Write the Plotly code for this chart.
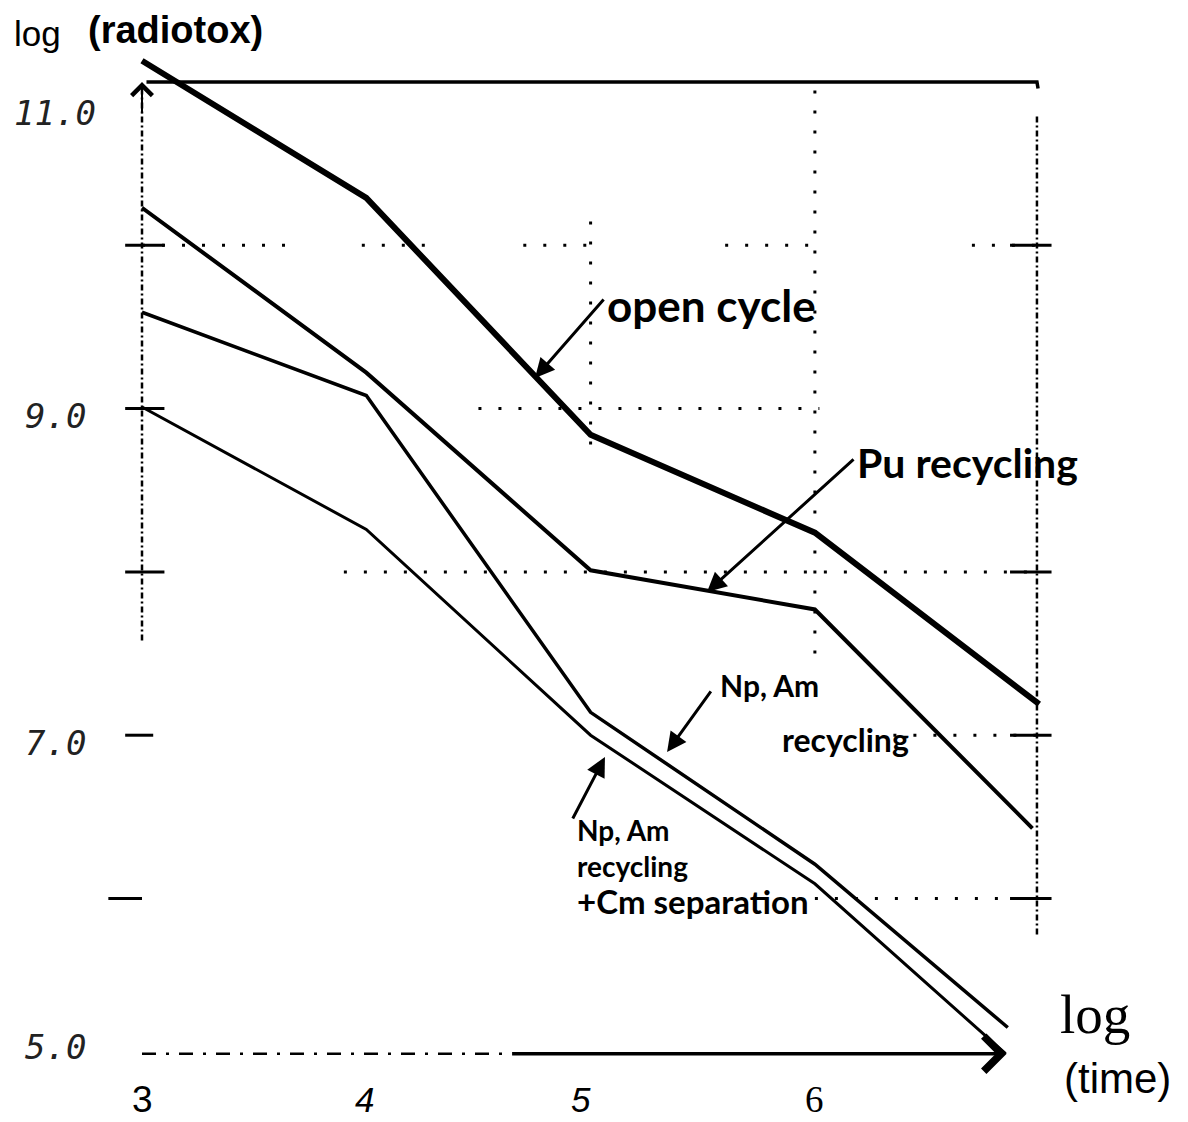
import plotly.graph_objects as go

# ---------------- data ----------------
open_cycle_x = [3, 4, 5, 6, 7.0]
open_cycle_y = [11.13, 10.29, 8.84, 8.24, 7.19]

pu_recycling_x = [3, 4, 5, 6, 6.97]
pu_recycling_y = [10.23, 9.22, 8.01, 7.77, 6.43]

np_am_x = [3, 4, 5, 6, 6.86]
np_am_y = [9.59, 9.08, 7.14, 6.21, 5.21]

np_am_cm_x = [3, 4, 5, 6, 6.85]
np_am_cm_y = [9.01, 8.26, 7.00, 6.09, 5.05]

y_tick_vals = [11.0, 9.0, 7.0, 5.0]
y_tick_text = ["11.0", "9.0", "7.0", "5.0"]
x_tick_vals = [3, 4, 5, 6]
x_tick_text = ["3", "4", "5", "6"]

left_tick_vals = [10, 9, 8, 7, 6]
right_tick_vals = [10, 8, 7, 6]

# ---------------- figure ----------------
W, H = 1188, 1122
OFF = 8  # page body margin compensation (px)
X_RANGE = [2.4026, 7.6991]
Y_RANGE = [4.5824, 11.4532]

fig = go.Figure()


def seg(xs, ys, width, dash="solid", color="black"):
    fig.add_trace(go.Scatter(x=xs, y=ys, mode="lines",
                             line=dict(color=color, width=width, dash=dash),
                             hoverinfo="skip", showlegend=False))


DOT = "3px,17px"
DASHDOT = "6px,3px,2px,3px"

# dotted grid fragments
for a, b in [(3.0, 3.68), (3.98, 4.3), (4.7, 5.05), (5.6, 6.02), (6.7, 7.0)]:
    seg([a, b], [10, 10], 3, DOT)
seg([4.5, 6.02], [9, 9], 3, DOT)
seg([3.9, 7.0], [8, 8], 3, DOT)
seg([6.35, 7.0], [7, 7], 3, DOT)
seg([6.0, 7.0], [6, 6], 3, DOT)
seg([6, 6], [7.5, 11.0], 3, DOT)
seg([5, 5], [8.78, 10.2], 3, DOT)

# frame: left dash-dot axis, right dash-dot line, top line
seg([3, 3], [7.58, 10.97], 2.5, DASHDOT)
seg([6.99, 6.99], [5.78, 10.8], 2.5, DASHDOT)
seg([3.02, 6.99, 6.995], [11.0, 11.0, 10.96], 3.5)

# tick marks
for v in left_tick_vals:
    lo = 2.85 if v == 6 else 2.925
    hi = 3.0 if v == 6 else (3.05 if v == 7 else 3.1)
    seg([lo, hi], [v, v], 3)
for v in right_tick_vals:
    seg([6.87, 7.055], [v, v], 3)

# bottom axis (broken part + solid part)
seg([3.0, 4.62], [5.05, 5.05], 2.5, "14px,10px,3px,10px")
seg([4.65, 6.83], [5.05, 5.05], 3.5)

# data lines
seg(np_am_cm_x, np_am_cm_y, 3)
seg(np_am_x, np_am_y, 3.5)
seg(pu_recycling_x, pu_recycling_y, 4)
seg(open_cycle_x, open_cycle_y, 6)

annotations = []

# axis arrow heads
annotations.append(dict(x=6.855, y=5.05, ax=6.6, ay=5.05, xref="x", yref="y",
                        axref="x", ayref="y", showarrow=True, arrowhead=4,
                        arrowsize=2.7, arrowwidth=2.5, arrowcolor="black", text=""))
annotations.append(dict(x=3, y=11.0, ax=3, ay=10.8, xref="x", yref="y",
                        axref="x", ayref="y", showarrow=True, arrowhead=4,
                        arrowsize=2.0, arrowwidth=2, arrowcolor="black", text=""))

# y tick labels (italic typewriter style)
y_label_shift = [-31, -7, -8, 15]
for v, t, s in zip(y_tick_vals, y_tick_text, y_label_shift):
    annotations.append(dict(x=2.6135, y=v, xref="x", yref="y", text=t,
                            showarrow=False, yshift=s, xanchor="center", yanchor="middle",
                            font=dict(family="DejaVu Sans Mono", size=34, color="#222",
                                      style="italic")))

# x tick labels
x_label_fonts = [dict(family="Liberation Sans Narrow, Liberation Sans", size=37, color="black"),
                 dict(family="Liberation Sans Narrow, Liberation Sans", size=35, color="black", style="italic"),
                 dict(family="Liberation Sans Narrow, Liberation Sans", size=35, color="black", style="italic"),
                 dict(family="Liberation Serif", size=37, color="black")]
x_label_dx = [0, -2, -10, 0]
for v, t, f, dx in zip(x_tick_vals, x_tick_text, x_label_fonts, x_label_dx):
    annotations.append(dict(x=v, y=5.05, xref="x", yref="y", text=t, showarrow=False,
                            xshift=dx, yshift=-46, xanchor="center", yanchor="middle", font=f))


def px(xp, yp):
    return (xp - OFF) / W, 1 - (yp - OFF) / H


# axis titles
for text, (xp, yp), font in [
    ("log", (12, 33), dict(family="Liberation Sans", size=35, color="black")),
    ("<b>(radiotox)</b>", (86, 30), dict(family="Liberation Sans", size=38, color="black")),
    ("log", (1058, 1014), dict(family="Liberation Serif", size=55, color="black")),
    ("(time)", (1062, 1078), dict(family="Liberation Sans Narrow, Liberation Sans", size=42, color="black")),
]:
    xx, yy = px(xp, yp)
    annotations.append(dict(x=xx, y=yy, xref="paper", yref="paper", text=text,
                            showarrow=False, xanchor="left", yanchor="middle", font=font))

# handwritten-style labels
HAND = dict(family="Lato", color="black", weight=700)
labels = [
    ("open cycle", 5.064, 9.634, 44),
    ("Pu recycling", 6.179, 8.673, 41),
    ("Np, Am", 5.568, 7.307, 30),
    ("recycling", 5.844, 6.971, 32),
    ("Np, Am<br>recycling<br><span style='font-size:33px'>+Cm separation</span>",
     4.93, 6.195, 28),
]
for t, x, y, s in labels:
    annotations.append(dict(x=x, y=y, xref="x", yref="y", text=t, showarrow=False,
                            align="left", xanchor="left", yanchor="middle",
                            font=dict(size=s, **HAND)))

# pointer arrows
pointers = [
    (4.752, 9.187, 5.064, 9.677),
    (5.519, 7.877, 6.179, 8.697),
    (5.341, 6.897, 5.541, 7.277),
    (5.064, 6.867, 4.917, 6.481),
]
for tx, ty, sx, sy in pointers:
    annotations.append(dict(x=tx, y=ty, ax=sx, ay=sy, xref="x", yref="y", axref="x", ayref="y",
                            showarrow=True, arrowhead=2, arrowsize=1.3, arrowwidth=3,
                            arrowcolor="black", text=""))

fig.update_layout(
    width=W, height=H, autosize=False,
    margin=dict(l=0, r=0, t=0, b=0, pad=0),
    paper_bgcolor="white", plot_bgcolor="white",
    xaxis=dict(range=X_RANGE, visible=False, fixedrange=True),
    yaxis=dict(range=Y_RANGE, visible=False, fixedrange=True),
    annotations=annotations,
    showlegend=False,
)

fig.write_html("out.html")
